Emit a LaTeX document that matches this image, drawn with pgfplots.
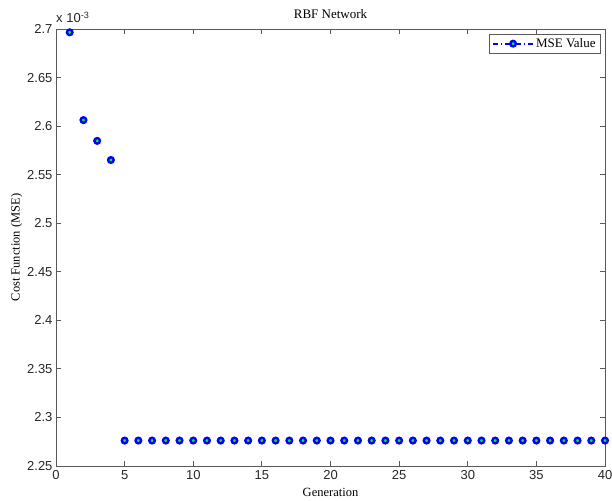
\documentclass[border=0pt]{standalone}
\usepackage{fontspec}
\setmainfont{Liberation Serif}
\newfontfamily\arial{Liberation Sans}
\usepackage{pgfplots}
\pgfplotsset{compat=1.18}
\definecolor{axgray}{gray}{0.35}
\begin{document}
\begin{tikzpicture}
\path[use as bounding box] (-56pt,-34pt) rectangle (556pt,466pt);
\begin{axis}[
  at={(0pt,0pt)}, anchor=south west,
  scale only axis,
  width=549pt, height=437pt,
  clip=false,
  xmin=0, xmax=40, ymin=2.25, ymax=2.7,
  xtick={0,5,10,15,20,25,30,35,40},
  ytick={2.25,2.3,2.35,2.4,2.45,2.5,2.55,2.6,2.65,2.7},
  yticklabels={2.25,2.3,2.35,2.4,2.45,2.5,2.55,2.6,2.65,2.7},
  tick align=inside,
  major tick length=5pt,
  axis line style={axgray, line width=0.8pt},
  every tick/.style={axgray, line width=0.8pt},
  tick label style={font=\arial\fontsize{13}{15}\selectfont, text=black!85},
  /pgf/number format/assume math mode=true,
  xticklabel style={yshift=-1pt},
  title={RBF Network},
  title style={font=\fontsize{13}{15}\selectfont, yshift=1pt},
  xlabel={Generation},
  xlabel style={font=\fontsize{12.5}{14}\selectfont, yshift=-2pt},
  ylabel={Cost Function (MSE)},
  ylabel style={font=\fontsize{12.5}{14}\selectfont, yshift=-2pt},
  legend style={at={(1,1)}, anchor=north east, xshift=-4pt, yshift=-5pt,
    draw=axgray, line width=0.8pt, font=\fontsize{13}{15}\selectfont,
    inner xsep=3pt, inner ysep=2pt},
  legend cell align=left,
]
\addplot[only marks, mark=*, mark size=2.8pt, mark options={draw=blue, fill=green, line width=2.4pt}, forget plot]
coordinates {
(1,2.6966) (2,2.6062) (3,2.5848) (4,2.5651)
(5,2.2762) (6,2.2762) (7,2.2762) (8,2.2762) (9,2.2762) (10,2.2762)
(11,2.2762) (12,2.2762) (13,2.2762) (14,2.2762) (15,2.2762) (16,2.2762)
(17,2.2762) (18,2.2762) (19,2.2762) (20,2.2762) (21,2.2762) (22,2.2762)
(23,2.2762) (24,2.2762) (25,2.2762) (26,2.2762) (27,2.2762) (28,2.2762)
(29,2.2762) (30,2.2762) (31,2.2762) (32,2.2762) (33,2.2762) (34,2.2762)
(35,2.2762) (36,2.2762) (37,2.2762) (38,2.2762) (39,2.2762) (40,2.2762)
};
\addlegendimage{legend image code/.code={
  \draw[draw=blue, line width=1.8pt, dash pattern=on 5pt off 2.5pt on 1.5pt off 2.5pt] (0pt,0pt) -- (40pt,0pt);
  \draw[draw=blue, fill=green, line width=2.4pt] (20pt,0pt) circle (2.8pt);
}}
\addlegendentry{MSE Value}
\end{axis}
\node[anchor=south west, inner sep=0pt, font=\arial\fontsize{13}{15}\selectfont, text=black!85] at (0pt,443pt) {x 10\textsuperscript{-3}};
\end{tikzpicture}
\end{document}
